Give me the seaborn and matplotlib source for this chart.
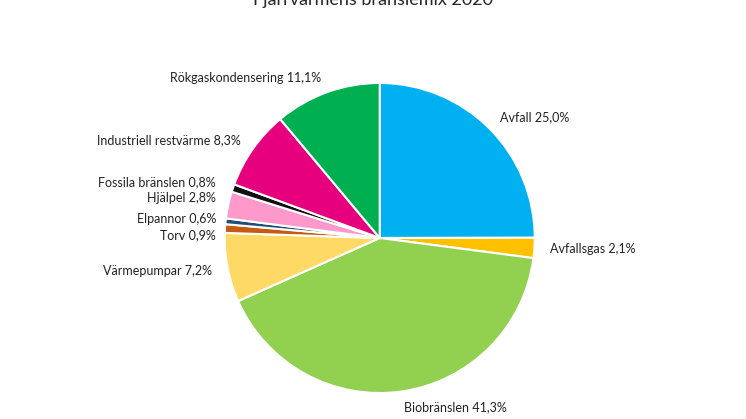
import matplotlib
matplotlib.use("Agg")
import matplotlib.pyplot as plt
import seaborn as sns

sns.set_theme(style="white", font="Lato")

categories = ["Avfall", "Avfallsgas", "Biobränslen", "Värmepumpar", "Torv", "Elpannor",
              "Hjälpel", "Fossila bränslen", "Industriell restvärme", "Rökgaskondensering"]
shares = [25.0, 2.1, 41.3, 7.2, 0.9, 0.6, 2.8, 0.8, 8.3, 11.1]
colors = ["#00B0F0", "#FFC000", "#92D050", "#FFD966", "#C55A11", "#1F4E79",
          "#FF99CC", "#111111", "#E6007E", "#00B050"]

labels = [f"{c} {v:.1f}".replace(".", ",") + "%" for c, v in zip(categories, shares)]

fig = plt.figure(figsize=(7.46, 4.19), dpi=100)
ax = fig.add_axes([0.301, 0.062, 0.416, 0.74])
wedges, texts = ax.pie(shares, labels=labels, colors=colors, startangle=90,
                       counterclock=False, labeldistance=1.1, radius=1.25,
                       wedgeprops=dict(edgecolor="white", linewidth=1.5),
                       textprops=dict(fontsize=9, color="#222222"))
# spread the small slice labels so they don't collide
for i, y in zip([4, 5, 6, 7], [0.02, 0.15, 0.32, 0.45]):
    texts[i].set_position((-1.32, y))
    texts[i].set_ha("right")
ax.set_xlim(-1.25, 1.25)
ax.set_ylim(-1.25, 1.25)
ax.set_aspect("equal")
fig.text(0.5, 1.0, "Fjärrvärmens bränslemix 2020", ha="center", va="center", fontsize=13)
fig.savefig("out.png", dpi=100)
